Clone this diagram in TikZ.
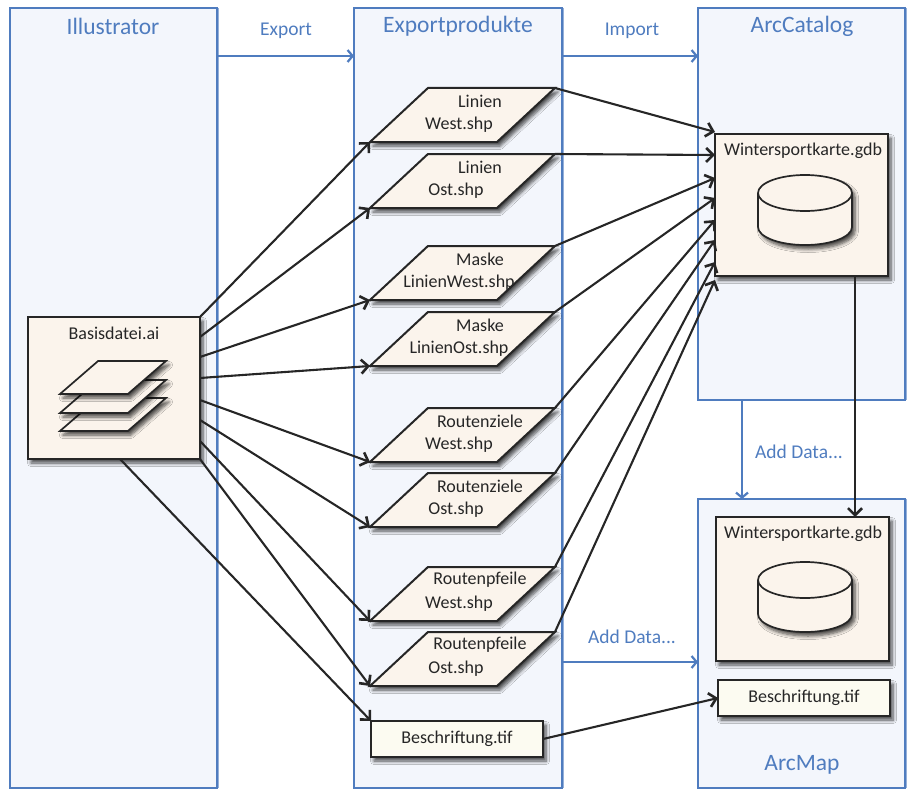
\documentclass[tikz,border=0pt]{standalone}
\usepackage{fontspec}
\setmainfont{Carlito}
\usepackage{xcolor}
\usetikzlibrary{positioning,arrows.meta,shapes.geometric,shadows,shadows.blur,calc}

\definecolor{panelblue}{HTML}{4F7CBF}
\definecolor{panelfill}{HTML}{F3F6FC}
\definecolor{boxfill}{HTML}{FBF4EC}
\definecolor{tifffill}{HTML}{FCFBF1}
\definecolor{inkgray}{HTML}{262626}

\tikzset{
  softshadow/.style={blur shadow={shadow xshift=3pt,shadow yshift=-4pt,shadow blur radius=3.5pt,shadow blur steps=6,shadow opacity=70}},
  panel/.style={draw=panelblue,line width=1.4pt,fill=panelfill,anchor=north west,outer sep=0pt,inner sep=0pt,
    drop shadow={shadow xshift=2pt,shadow yshift=0pt,opacity=.6,fill=panelblue}},
  paneltitle/.style={text=panelblue,font=\fontsize{23.5}{26}\selectfont},
  bluelabel/.style={text=panelblue,font=\fontsize{19.5}{22}\selectfont},
  boxlabel/.style={text=inkgray,font=\fontsize{18}{20}\selectfont},
  whitebox/.style={draw=inkgray,line width=2pt,fill=boxfill,anchor=north west,outer sep=0pt,inner sep=0pt,softshadow},
  tiffbox/.style={draw=inkgray,line width=2pt,fill=tifffill,outer sep=0pt,inner sep=0pt,
    minimum width=172pt,minimum height=36pt,text=inkgray,font=\fontsize{18}{20}\selectfont,softshadow},
  shpfile/.style={trapezium,trapezium left angle=50,trapezium right angle=130,trapezium stretches=true,
    draw=inkgray,line width=2pt,fill=boxfill,outer sep=0pt,inner sep=1pt,
    execute at begin node={\phantom{\rule{1pt}{1pt}}},
    minimum width=185pt,minimum height=54pt,anchor=bottom left corner,softshadow},
  layerfile/.style={trapezium,trapezium left angle=38,trapezium right angle=142,trapezium stretches=true,
    draw=inkgray,line width=1.7pt,fill=boxfill,outer sep=0pt,inner sep=1pt,
    execute at begin node={\phantom{\rule{1pt}{1pt}}},
    minimum width=106pt,minimum height=33pt,anchor=bottom left corner,softshadow},
  diskline/.style={draw=inkgray,line width=1.7pt,fill=boxfill},
  flow/.style={-{Straight Barb[length=7pt,width=14pt,line width=2.6pt]},line width=2.1pt,draw=inkgray},
  blueflow/.style={-{Straight Barb[length=5pt,width=12pt,line width=2.2pt]},line width=1.6pt,draw=panelblue},
}

% database drum, #1 centre x, #2 centre y of its lid
\newcommand{\gdbdrum}[2]{
  \draw[diskline,softshadow] (#1-47,#2) arc[start angle=180,end angle=0,x radius=47pt,y radius=18pt]
    -- (#1+47,#2+34) arc[start angle=0,end angle=-180,x radius=47pt,y radius=18pt] -- cycle;
  \draw[diskline,fill=none] (#1-47,#2) arc[start angle=180,end angle=360,x radius=47pt,y radius=18pt];
}

\begin{document}
\begin{tikzpicture}[x=1pt,y=-1pt]
\useasboundingbox (0,0) rectangle (912,789);

% Panels
\node[panel,minimum width=207pt,minimum height=780pt] (illustrator) at (10,8) {};
\node[panel,minimum width=208pt,minimum height=780pt] (exportprodukte) at (354,8) {};
\node[panel,minimum width=207pt,minimum height=392pt] (arccatalog) at (698,8) {};
\node[panel,minimum width=207pt,minimum height=289pt] (arcmap) at (698,499) {};
\node[paneltitle] (illustratortitle) at (113,26) {Illustrator};
\node[paneltitle] (exporttitle) at (458,26) {Exportprodukte};
\node[paneltitle] (catalogtitle) at (802,26) {ArcCatalog};
\node[paneltitle] (maptitle) at (802,765) {ArcMap};

% Source file with its layers
\node[whitebox,minimum width=172pt,minimum height=142pt] (basis) at (28,317) {};
\node[boxlabel] (basislabel) at (114,333) {Basisdatei.ai};
\node[layerfile] (layerc) at (60,431) {};
\node[layerfile] (layerb) at (60,413) {};
\node[layerfile] (layera) at (60,394) {};

% Shapefiles
\foreach \name/\ybase/\first/\xfirst/\second/\xsecond in {
  linwest/142/Linien/480/West.shp/459,
  linost/208/Linien/480/Ost.shp/456,
  maskwest/300/Maske/480/LinienWest.shp/459,
  maskost/366/Maske/480/LinienOst.shp/459,
  zielwest/462/Routenziele/480/West.shp/459,
  zielost/527/Routenziele/480/Ost.shp/456,
  pfeilwest/621/Routenpfeile/480/West.shp/459,
  pfeilost/686/Routenpfeile/480/Ost.shp/456}{
  \node[shpfile] (\name) at (370,\ybase) {};
  \node[boxlabel] (\name first) at (\xfirst,\ybase-41) {\first};
  \node[boxlabel] (\name second) at (\xsecond,\ybase-17) {\second};
}
\node[tiffbox,anchor=north west] (tifexport) at (371,721) {Beschriftung.tif};

% Geodatabases
\node[whitebox,minimum width=173pt,minimum height=142pt] (gdbcatalog) at (715,134) {};
\node[boxlabel] (gdbcataloglabel) at (803,151) {Wintersportkarte.gdb};
\gdbdrum{805}{193}
\node[whitebox,minimum width=173pt,minimum height=144pt] (gdbmap) at (716,517) {};
\node[boxlabel] (gdbmaplabel) at (803,534) {Wintersportkarte.gdb};
\gdbdrum{805}{580}
\node[tiffbox,anchor=north west] (tifmap) at (718,680) {Beschriftung.tif};

% Steps between the programs
\coordinate (toplevel) at (0,56);
\coordinate (datalevel) at (0,662);
\coordinate (addlevel) at (742,0);
\draw[blueflow] (illustrator.east |- toplevel) -- (exportprodukte.west |- toplevel);
\draw[blueflow] (exportprodukte.east |- toplevel) -- (arccatalog.west |- toplevel);
\draw[blueflow] (arccatalog.south -| addlevel) -- (arcmap.north -| addlevel);
\draw[blueflow] (exportprodukte.east |- datalevel) -- (arcmap.west |- datalevel);
\node[bluelabel] (exportlabel) at (286,31) {Export};
\node[bluelabel] (importlabel) at (632,31) {Import};
\node[bluelabel] (addlabel) at (799,452) {Add Data...};
\node[bluelabel] (datalabel) at (632,637) {Add Data...};

% Arrows from the source file
\foreach \target/\yoff in {linwest/71,linost/51,maskwest/31,maskost/10,zielwest/-12,zielost/-32,pfeilwest/-53,pfeilost/-71}
  \draw[flow] ([yshift=\yoff pt]basis.east) -- (\target.bottom left corner);
\draw[flow] ([xshift=6pt]basis.south) -- (tifexport.north west);

% Arrows into the geodatabase
\foreach \source/\yoff in {linwest/73,linost/50,maskwest/27,maskost/7,zielwest/-15,zielost/-35,pfeilwest/-57,pfeilost/-75}
  \draw[flow] (\source.top right corner) -- ([yshift=\yoff pt]gdbcatalog.west);
\coordinate (copylevel) at (855,0);
\draw[flow] (gdbcatalog.south -| copylevel) -- (gdbmap.north -| copylevel);
\draw[flow] (tifexport.east) -- (tifmap.west);

\end{tikzpicture}
\end{document}
